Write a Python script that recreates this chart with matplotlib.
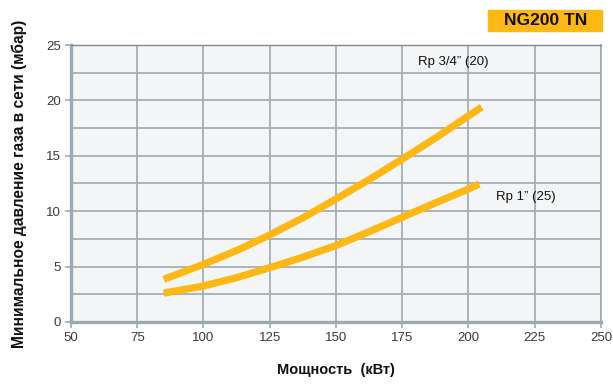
#!/usr/bin/env python3

import matplotlib.pyplot as plt
import matplotlib.ticker as ticker
from matplotlib.patches import Rectangle

# данные
power_kw = [85, 100, 112.5, 125, 137.5, 150, 162.5, 175, 187.5, 200, 205]
rp_34 = [3.85, 5.2, 6.45, 7.85, 9.4, 11.1, 12.85, 14.7, 16.6, 18.6, 19.4]
power_kw_1 = [85, 100, 112.5, 125, 137.5, 150, 162.5, 175, 187.5, 200, 204]
rp_1 = [2.6, 3.25, 4.0, 4.9, 5.85, 6.9, 8.15, 9.45, 10.75, 12.0, 12.45]

x_ticks = [50, 75, 100, 125, 150, 175, 200, 225, 250]
y_ticks = [0, 5, 10, 15, 20, 25]


def draw():
    plt.rcParams['font.family'] = ['Liberation Sans', 'DejaVu Sans']

    orange = "#FDB813"
    grid_c = "#9DAAB1"

    fig = plt.figure(figsize=(6.13, 3.84), dpi=100)
    ax = fig.add_axes([0.1158, 0.1615, 0.8646, 0.7213])
    ax.set_facecolor("#F4F5F7")

    ax.set_xlim(50, 250)
    ax.set_ylim(0, 25)
    ax.xaxis.set_major_locator(ticker.FixedLocator(x_ticks))
    ax.yaxis.set_major_locator(ticker.FixedLocator(y_ticks))
    ax.yaxis.set_minor_locator(ticker.MultipleLocator(2.5))

    ax.grid(True, which='major', color=grid_c, lw=1.2)
    ax.grid(True, which='minor', axis='y', color=grid_c, lw=1.2)
    ax.set_axisbelow(True)

    for side in ['left', 'bottom']:
        ax.spines[side].set_color(grid_c)
        ax.spines[side].set_linewidth(2.4)
    ax.spines['top'].set_color("#7F8A90")
    ax.spines['top'].set_linewidth(1.0)
    ax.spines['right'].set_color(grid_c)
    ax.spines['right'].set_linewidth(1.2)

    ax.tick_params(which='major', length=4, width=1.2, color=grid_c,
                   labelsize=9.5, labelcolor="#3a3a3a", pad=3)
    ax.tick_params(which='minor', length=0)

    ax.plot(power_kw, rp_34, color=orange, lw=5.2, solid_capstyle='butt',
            solid_joinstyle='round')
    ax.plot(power_kw_1, rp_1, color=orange, lw=5.2, solid_capstyle='butt',
            solid_joinstyle='round')

    ax.text(180.8, 23.5, "Rp 3/4\u201d (20)", fontsize=9.5, color="#111111",
            ha='left', va='center')
    ax.text(210.5, 11.3, "Rp 1\u201d (25)", fontsize=9.5, color="#111111",
            ha='left', va='center')

    ax.set_xlabel("Мощность  (кВт)", fontsize=10.5, fontweight='bold',
                  color="#111111", labelpad=14)
    ax.set_ylabel("Минимальное давление газа в сети (мбар)", fontsize=11.2,
                  fontweight='bold', color="#111111", labelpad=14)

    # плашка с моделью
    fig.patches.append(Rectangle((488 / 613, 1 - 31 / 384), 114 / 613, 21 / 384,
                                 transform=fig.transFigure, color=orange,
                                 zorder=0))
    fig.text(546 / 613, 1 - 20.5 / 384, "NG200 TN", fontsize=12.5,
             fontweight='bold', color="#111111", ha='center', va='center')

    fig.savefig('out.png', dpi=100)


if __name__ == "__main__":
    draw()
